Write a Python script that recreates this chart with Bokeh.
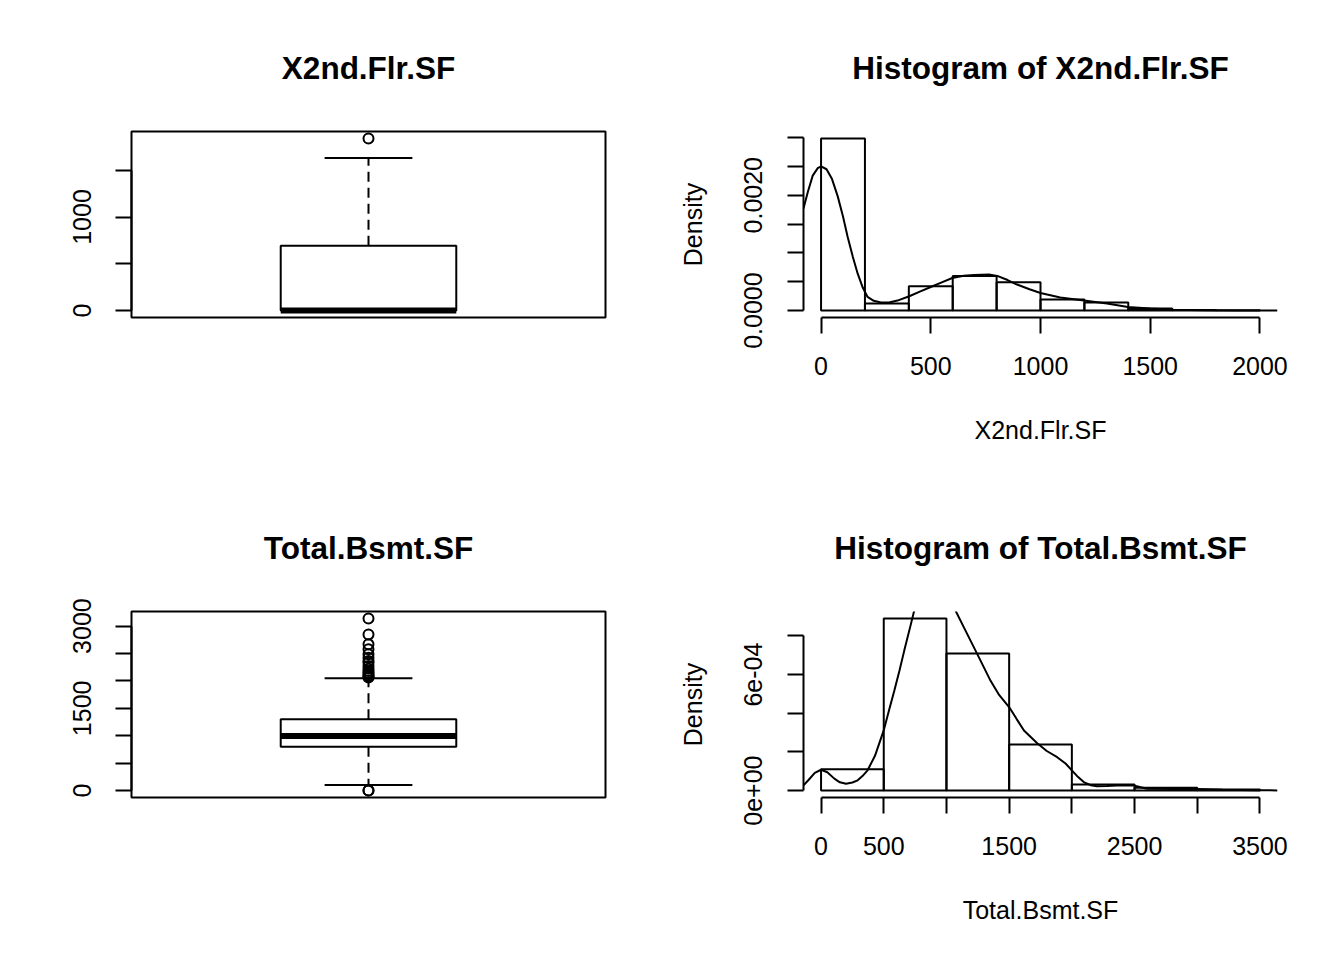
#
# Box plots and density histograms of two house-size columns (R style look)
#
from bokeh.plotting import figure
from bokeh.layouts import gridplot
from bokeh.models import FixedTicker, Range1d
from bokeh.embed import file_html
from bokeh.resources import INLINE

FONT = "Liberation Sans"

# X2nd.Flr.SF box plot: lower whisker, Q1, median, Q3, upper whisker
flr2_box = [0, 0, 0, 692, 1630]
flr2_outliers = [1840]
flr2_box_ticks = [0, 500, 1000, 1500]
flr2_box_labels = ["0", "", "1000", ""]

# X2nd.Flr.SF histogram (density scale) and density curve
flr2_breaks = [0, 200, 400, 600, 800, 1000, 1200, 1400, 1600, 1800, 2000]
flr2_density = [0.002985, 0.000122, 0.000423, 0.000602, 0.000492,
                0.000191, 0.000139, 0.000035, 0.000010, 0.000006]
flr2_kde_x = [-80, -60, -38, -15, 0, 25, 50, 76, 100, 121, 145, 167, 190, 212, 240,
              273, 310, 348, 402, 450, 500, 550, 598, 650, 697, 765, 803, 850, 893, 950,
              1000, 1090, 1198, 1303, 1398, 1500, 1606, 1757, 1900, 2000, 2080]
flr2_kde_y = [0.00177, 0.00206, 0.00234, 0.00247, 0.00250, 0.00245, 0.00228, 0.00198,
              0.00163, 0.00128, 0.00093, 0.00064, 0.00040, 0.000237, 0.00017, 0.000139,
              0.000142, 0.000174, 0.000249, 0.00033, 0.00041, 0.00049, 0.000565, 0.000605,
              0.000619, 0.000625, 0.000602, 0.00053, 0.000452, 0.00037, 0.000306, 0.000226,
              0.000174, 0.000122, 0.000063, 0.000035, 0.000017, 0.000005, 0.000002,
              0.000001, 0.0000005]
flr2_hist_xticks = [0, 500, 1000, 1500, 2000]
flr2_hist_xlabels = ["0", "500", "1000", "1500", "2000"]
flr2_hist_yticks = [0, 0.0005, 0.001, 0.0015, 0.002, 0.0025, 0.003]
flr2_hist_ylabels = ["0.0000", "", "", "", "0.0020", "", ""]

# Total.Bsmt.SF box plot
bsmt_box = [103, 800, 994, 1303, 2048]
bsmt_outliers = [0, 0, 2060, 2076, 2092, 2121, 2150, 2182, 2220, 2273, 2333, 2364,
                 2424, 2485, 2576, 2667, 2848, 3140]
bsmt_box_ticks = [0, 500, 1000, 1500, 2000, 2500, 3000]
bsmt_box_labels = ["0", "", "", "1500", "", "", "3000"]

# Total.Bsmt.SF histogram and density curve
bsmt_breaks = [0, 500, 1000, 1500, 2000, 2500, 3000, 3500]
bsmt_density = [1.11e-4, 8.91e-4, 7.09e-4, 2.39e-4, 3.2e-5, 1.5e-5, 6e-6]
bsmt_kde_x = [-140, -100, -50, 0, 50, 106, 150, 199, 250, 292, 330, 371, 430, 499, 540,
              584, 625, 663, 716, 742, 800, 870, 950, 1020, 1074, 1140, 1246, 1352, 1420,
              1501, 1560, 1618, 1724, 1800, 1883, 1950, 2000, 2050, 2095, 2150, 2201,
              2280, 2360, 2430, 2493, 2550, 2599, 2800, 2997, 3200, 3500, 3640]
bsmt_kde_y = [2.7e-5, 5.5e-5, 9.2e-5, 1.08e-4, 9.5e-5, 6.2e-5, 4.3e-5, 3.6e-5, 4.2e-5,
              5.3e-5, 7.5e-5, 1.05e-4, 1.8e-4, 3.1e-4, 4.1e-4, 5.17e-4, 6.2e-4, 7.23e-4,
              8.6e-4, 9.29e-4, 1.02e-3, 1.08e-3, 1.09e-3, 1.03e-3, 9.29e-4, 8.43e-4,
              7.06e-4, 5.68e-4, 4.95e-4, 4.31e-4, 3.7e-4, 3.11e-4, 2.45e-4, 2.05e-4,
              1.73e-4, 1.4e-4, 1.05e-4, 7e-5, 4.4e-5, 2.8e-5, 2.2e-5, 2.4e-5, 2.7e-5,
              2.7e-5, 2.6e-5, 1.7e-5, 1.0e-5, 8e-6, 8e-6, 5e-6, 2e-6, 1e-6]
bsmt_hist_xticks = [0, 500, 1000, 1500, 2000, 2500, 3000, 3500]
bsmt_hist_xlabels = ["0", "500", "", "1500", "", "2500", "", "3500"]
bsmt_hist_yticks = [0, 0.0002, 0.0004, 0.0006, 0.0008]
bsmt_hist_ylabels = ["0e+00", "", "", "6e-04", ""]


def pad(lo, hi):
    # R extends the data range by 4% on each side
    d = 0.04 * (hi - lo)
    return Range1d(lo - d, hi + d)


def style_axis(ax, ticks, labels):
    ax.ticker = FixedTicker(ticks=ticks)
    ax.major_label_overrides = dict(zip(ticks, labels))
    ax.bounds = (ticks[0], ticks[-1])
    ax.axis_line_width = 2
    ax.axis_line_color = "black"
    ax.major_tick_line_width = 2
    ax.major_tick_line_color = "black"
    ax.major_tick_out = 16
    ax.major_tick_in = 0
    ax.minor_tick_line_color = None
    ax.major_label_text_font = FONT
    ax.major_label_text_font_size = "25px"
    ax.major_label_text_color = "black"
    ax.axis_label_text_font = FONT
    ax.axis_label_text_font_size = "25px"
    ax.axis_label_text_font_style = "normal"
    ax.axis_label_text_color = "black"


def make_fig(title, xr, yr, left, right, top, bottom, boxed):
    p = figure(title=title, x_range=xr, y_range=yr, frame_width=474, frame_height=186,
               min_border_left=left, min_border_right=right,
               min_border_top=top, min_border_bottom=bottom,
               toolbar_location=None, output_backend="svg")
    p.title.align = "center"
    p.title.text_font = FONT
    p.title.text_font_size = "31.5px"
    p.title.text_font_style = "bold"
    p.title.text_color = "black"
    p.title.standoff = 92
    p.xgrid.visible = False
    p.ygrid.visible = False
    p.background_fill_color = "white"
    p.border_fill_color = "white"
    if boxed:
        p.outline_line_color = "black"
        p.outline_line_width = 2
        p.outline_line_alpha = 1
    else:
        p.outline_line_color = None
    return p


def box_fig(title, stats, outliers, ticks, labels, left, right, top, bottom):
    lo, q1, med, q3, hi = stats
    vals = stats + outliers
    p = make_fig(title, Range1d(0.46, 1.54), pad(min(vals), max(vals)),
                 left, right, top, bottom, True)
    p.xaxis.visible = False
    style_axis(p.yaxis[0], ticks, labels)
    p.yaxis.major_label_orientation = "vertical"
    p.yaxis.major_label_standoff = 24
    # whiskers, box, median, staples, outliers
    p.segment(x0=[1, 1], y0=[q3, q1], x1=[1, 1], y1=[hi, lo],
              line_color="black", line_width=2, line_dash="10 6")
    p.quad(left=[0.8], right=[1.2], bottom=[q1], top=[q3],
           fill_color="white", line_color="black", line_width=2)
    p.segment(x0=[0.9, 0.9], y0=[lo, hi], x1=[1.1, 1.1], y1=[lo, hi],
              line_color="black", line_width=2)
    p.segment(x0=[0.8], y0=[med], x1=[1.2], y1=[med],
              line_color="black", line_width=6, line_cap="butt")
    p.scatter([1] * len(outliers), outliers, marker="circle", size=10,
              fill_color=None, line_color="black", line_width=2)
    return p


def hist_fig(title, xlabel, breaks, dens, kx, ky, xt, xl, yt, yl,
             left, right, top, bottom):
    p = make_fig(title, pad(breaks[0], breaks[-1]), pad(0, max(dens)),
                 left, right, top, bottom, False)
    style_axis(p.xaxis[0], xt, xl)
    style_axis(p.yaxis[0], yt, yl)
    p.xaxis.major_label_standoff = 23
    p.xaxis.axis_label = xlabel
    p.xaxis.axis_label_standoff = 38
    p.yaxis.major_label_orientation = "vertical"
    p.yaxis.major_label_standoff = 25
    p.yaxis.axis_label = "Density"
    p.yaxis.axis_label_standoff = 35
    p.quad(left=breaks[:-1], right=breaks[1:], bottom=0, top=dens,
           fill_color=None, line_color="black", line_width=2)
    p.line(kx, ky, line_color="black", line_width=2)
    return p


p1 = box_fig("X2nd.Flr.SF", flr2_box, flr2_outliers, flr2_box_ticks, flr2_box_labels,
             131, 59, 131, 155)
p2 = hist_fig("Histogram of X2nd.Flr.SF", "X2nd.Flr.SF", flr2_breaks, flr2_density,
              flr2_kde_x, flr2_kde_y, flr2_hist_xticks, flr2_hist_xlabels,
              flr2_hist_yticks, flr2_hist_ylabels, 139, 51, 131, 155)
p3 = box_fig("Total.Bsmt.SF", bsmt_box, bsmt_outliers, bsmt_box_ticks, bsmt_box_labels,
             131, 59, 139, 135)
p4 = hist_fig("Histogram of Total.Bsmt.SF", "Total.Bsmt.SF", bsmt_breaks, bsmt_density,
              bsmt_kde_x, bsmt_kde_y, bsmt_hist_xticks, bsmt_hist_xlabels,
              bsmt_hist_yticks, bsmt_hist_ylabels, 139, 51, 139, 135)

grid = gridplot([[p1, p2], [p3, p4]], toolbar_location=None)

open("out.html", "w").write(file_html(grid, INLINE))
